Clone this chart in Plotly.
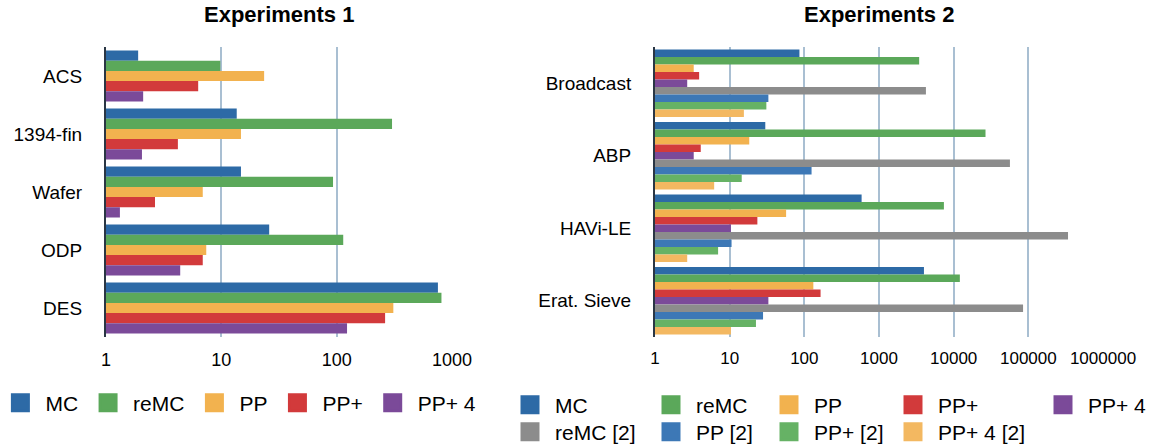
import plotly.graph_objects as go

# ---- data: Experiments 1 ----
exp1_categories = ["ACS", "1394-fin", "Wafer", "ODP", "DES"]
exp1_mc = [1.9, 13.6, 14.8, 26, 755]
exp1_remc = [9.8, 302, 93, 114, 810]
exp1_pp = [23.5, 14.8, 6.9, 7.4, 310]
exp1_ppplus = [6.3, 4.2, 2.66, 6.9, 263]
exp1_ppplus4 = [2.1, 2.05, 1.32, 4.4, 123]

# ---- data: Experiments 2 ----
exp2_categories = ["Broadcast", "ABP", "HAVi-LE", "Erat. Sieve"]
exp2_mc = [86, 30, 585, 4000]
exp2_remc = [3450, 26700, 7400, 12100]
exp2_pp = [3.3, 18.3, 57, 132]
exp2_ppplus = [3.9, 4.1, 23.5, 165]
exp2_ppplus4 = [2.7, 3.3, 10.4, 33]
exp2_remc2 = [4250, 56700, 340000, 85000]
exp2_pp2 = [33, 125, 10.6, 28]
exp2_ppplus2 = [31, 14.5, 7.0, 22.5]
exp2_ppplus4_2 = [15.5, 6.2, 2.7, 10.4]

# ---- tick labels ----
exp1_ticks = [1, 10, 100, 1000]
exp2_ticks = [1, 10, 100, 1000, 10000, 100000, 1000000]

# ---- styling ----
W, H = 1151, 445
FONT = "Liberation Sans, Arial, Helvetica, sans-serif"
TXT = "#000000"
GRID = "#a9bfd2"
AXIS = "#2a3644"

C_MC = "#2d6aa6"
C_REMC = "#5ba85a"
C_PP = "#f2b24f"
C_PPP = "#d23a3b"
C_PPP4 = "#7b4a99"
C_REMC2 = "#8c8c8c"
C_PP2 = "#3d78b6"
C_PPP2 = "#66b265"
C_PPP42 = "#f3b861"

series1 = [
    ("MC", exp1_mc, C_MC),
    ("reMC", exp1_remc, C_REMC),
    ("PP", exp1_pp, C_PP),
    ("PP+", exp1_ppplus, C_PPP),
    ("PP+ 4", exp1_ppplus4, C_PPP4),
]
series2 = [
    ("MC", exp2_mc, C_MC),
    ("reMC", exp2_remc, C_REMC),
    ("PP", exp2_pp, C_PP),
    ("PP+", exp2_ppplus, C_PPP),
    ("PP+ 4", exp2_ppplus4, C_PPP4),
    ("reMC [2]", exp2_remc2, C_REMC2),
    ("PP [2]", exp2_pp2, C_PP2),
    ("PP+ [2]", exp2_ppplus2, C_PPP2),
    ("PP+ 4 [2]", exp2_ppplus4_2, C_PPP42),
]

fig = go.Figure()

for name, vals, col in series1:
    fig.add_trace(go.Bar(
        x=vals, y=exp1_categories, orientation="h", name=name,
        marker=dict(color=col, line=dict(width=0)),
        xaxis="x", yaxis="y", showlegend=False,
    ))

# nine bars per group on the right, packed a little tighter than on the left
GROUP2 = 0.934
bw2 = GROUP2 / len(series2)
for i, (name, vals, col) in enumerate(series2):
    fig.add_trace(go.Bar(
        x=vals, y=exp2_categories, orientation="h", name=name,
        marker=dict(color=col, line=dict(width=0)),
        width=bw2, offset=-GROUP2 / 2 + i * bw2,
        xaxis="x2", yaxis="y2", showlegend=False,
    ))

# legend swatches (square keys)
def key(name, col, legend, xa, ya):
    fig.add_trace(go.Scatter(
        x=[None], y=[None], mode="markers", name=name,
        marker=dict(symbol="square", size=16, color=col, line=dict(color=col, width=3)),
        xaxis=xa, yaxis=ya, legend=legend, showlegend=True, hoverinfo="skip",
    ))

for name, _, col in series1:
    key(name, col, "legend", "x", "y")

# right legend: a 5-column grid, one legend box per cell (name, column centre, row centre)
cells = [
    ("MC", 530, 405), ("reMC", 671, 405), ("PP", 789, 405), ("PP+", 913, 405), ("PP+ 4", 1063, 405),
    ("reMC [2]", 530, 432), ("PP [2]", 671, 432), ("PP+ [2]", 789, 432), ("PP+ 4 [2]", 913, 432),
]
colour2 = {n: c for n, _, c in series2}
for i, (n, _, _) in enumerate(cells):
    key(n, colour2[n], "legend%d" % (i + 2), "x2", "y2")

y_dom = [(H - 337) / H, (H - 47) / H]

def xaxis(domain, ticks, rng, fs):
    return dict(
        type="log", domain=domain, range=rng,
        tickvals=ticks, ticktext=[str(t) for t in ticks],
        showgrid=True, gridcolor=GRID, gridwidth=1.5,
        zeroline=False, showline=False,
        ticks="outside", ticklen=6, tickcolor="rgba(0,0,0,0)",
        tickfont=dict(family=FONT, size=fs, color=TXT),
        fixedrange=True,
    )

def yaxis(anchor):
    return dict(
        domain=y_dom, anchor=anchor, autorange="reversed", type="category",
        showgrid=False, zeroline=False, showline=True, linecolor=AXIS, linewidth=2,
        ticks="outside", ticklen=18, tickcolor="rgba(0,0,0,0)",
        tickfont=dict(family=FONT, size=19, color=TXT),
        fixedrange=True,
    )

xa1 = xaxis([106 / W, 452 / W], exp1_ticks, [0, 3.0], 18)
xa1["anchor"] = "y"
xa2 = xaxis([655 / W, 1103 / W], exp2_ticks, [0, 6.0], 17)
xa2["anchor"] = "y2"

legend_font = dict(family=FONT, size=21, color=TXT)
layout = dict(
    width=W, height=H,
    margin=dict(l=0, r=0, t=0, b=0, autoexpand=False),
    paper_bgcolor="white", plot_bgcolor="white",
    barmode="group",
    bargap=0.12,
    xaxis=xa1, yaxis=yaxis("x"),
    xaxis2=xa2, yaxis2=yaxis("x2"),
    font=dict(family=FONT, color=TXT),
    legend=dict(
        orientation="h", x=-0.004, y=(H - 403) / H, xanchor="left", yanchor="middle",
        font=legend_font, bgcolor="rgba(0,0,0,0)", itemwidth=40,
        itemclick=False, itemdoubleclick=False,
    ),
    annotations=[
        dict(text="<b>Experiments 1</b>", xref="x domain", yref="paper", x=0.5,
             y=(H - 15) / H, xanchor="center", yanchor="middle", showarrow=False,
             font=dict(family=FONT, size=22, color=TXT)),
        dict(text="<b>Experiments 2</b>", xref="x2 domain", yref="paper", x=0.5,
             y=(H - 15) / H, xanchor="center", yanchor="middle", showarrow=False,
             font=dict(family=FONT, size=22, color=TXT)),
    ],
)
for i, (n, cx, cy) in enumerate(cells):
    layout["legend%d" % (i + 2)] = dict(
        orientation="v", x=(cx - 25) / W, y=(H - cy) / H, xanchor="left", yanchor="middle",
        font=legend_font, bgcolor="rgba(0,0,0,0)", itemwidth=40,
        itemclick=False, itemdoubleclick=False,
    )

fig.update_layout(**layout)

fig.write_html("out.html")
